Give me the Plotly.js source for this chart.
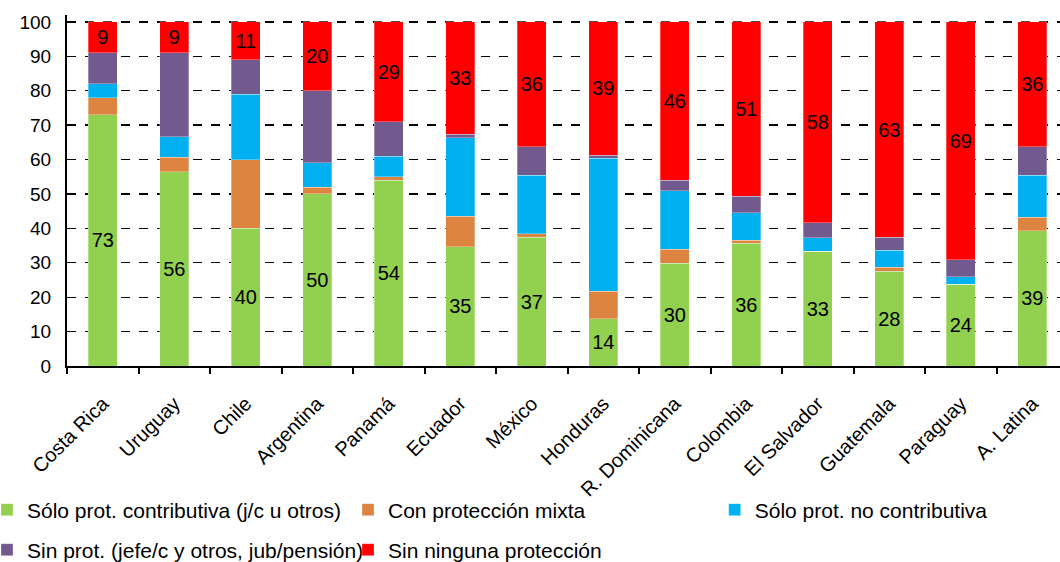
<!DOCTYPE html>
<html>
<head>
<meta charset="utf-8">
<script src="https://cdn.plot.ly/plotly-3.0.1.min.js"></script>
<style>html,body{margin:0;padding:0;background:#fff;}#chart{width:1060px;height:562px;}</style>
</head>
<body>
<div id="chart"></div>
<script>
const categories = ['Costa Rica','Uruguay','Chile','Argentina','Panamá','Ecuador','México','Honduras','R. Dominicana','Colombia','El Salvador','Guatemala','Paraguay','A. Latina'];
const contributiva = [73, 56.4, 40, 50, 54, 34.6, 37.4, 13.7, 29.8, 35.6, 33.3, 27.6, 23.8, 39.3];
const mixta        = [5, 4.2, 20, 2, 1, 8.9, 1, 8, 4.1, 1, 0, 1.1, 0, 4];
const noContrib    = [4, 6, 19, 7, 6, 22.9, 17.1, 38.7, 17.1, 7.9, 4, 4.9, 2.1, 12.2];
const sinProt      = [9, 24.4, 10, 21, 10, 1, 8.2, 0.9, 3, 4.9, 4.4, 3.8, 5, 8.2];
const ninguna      = [9, 9, 11, 20, 29, 32.6, 36.3, 38.7, 46, 50.6, 58.3, 62.6, 69.1, 36.3];
const seriesNames  = ['Sólo prot. contributiva (j/c u otros)','Con protección mixta','Sólo prot. no contributiva','Sin prot. (jefe/c y otros, jub/pensión)','Sin ninguna protección'];

const FONT = 'Liberation Sans, Arial, sans-serif';
const colors = ['#92D050','#DC8440','#00B0F0','#725A8F','#FF0000'];
const values = [contributiva, mixta, noContrib, sinProt, ninguna];
const legendIds = ['legend','legend2','legend3','legend4','legend5'];
const withText = [true,false,false,false,true];

const traces = values.map((v,i) => {
  const t = {
    type:'bar', x:categories, y:v, name:seriesNames[i],
    marker:{color:colors[i], line:{color:'rgba(255,255,255,0.5)', width:0.6}},
    legend: legendIds[i],
    hoverinfo:'name+y'
  };
  if (withText[i]) {
    t.texttemplate = '%{y:.0f}';
    t.textposition = 'inside';
    t.insidetextanchor = 'middle';
    t.textangle = 0;
    t.insidetextfont = {family:FONT, size:20, color:'#000'};
    t.constraintext = 'none';
  } else {
    t.textposition = 'none';
  }
  return t;
});

function leg(x, y) {
  return {xref:'paper', yref:'container', x:x, y:y, xanchor:'left', yanchor:'middle',
          orientation:'h', font:{family:FONT, size:21, color:'#000'}, bgcolor:'rgba(0,0,0,0)', borderwidth:0};
}
// paper x from pixel: (px - 67) / 993
function px(p){ return (p - 67) / 993; }

const layout = {
  width:1060, height:562,
  margin:{l:67, r:0, t:15, b:196, autoexpand:false},
  paper_bgcolor:'#fff', plot_bgcolor:'#fff',
  barmode:'stack', bargap:0.594,
  font:{family:FONT, size:19, color:'#000'},
  xaxis:{
    type:'category', range:[-0.5, 13.388], showline:true, linecolor:'#000', linewidth:2,
    ticks:'outside', tickson:'boundaries', ticklen:6, tickwidth:2, tickcolor:'#000',
    tickangle:-45, tickfont:{family:FONT, size:20, color:'#000'}, showgrid:false, zeroline:false,
    ticklabelstandoff:16
  },
  yaxis:{
    range:[0,102], tick0:0, dtick:10, showline:true, linecolor:'#000', linewidth:2,
    ticks:'', showgrid:true, gridcolor:'#000', gridwidth:1.3, griddash:'dash', zeroline:false,
    tickfont:{family:FONT, size:19, color:'#000'}, ticklabelstandoff:10
  },
  legend: leg(px(-13), 1-510/562),
  legend2: leg(px(348), 1-510/562),
  legend3: leg(px(714.7), 1-510/562),
  legend4: leg(px(-13), 1-550/562),
  legend5: leg(px(348), 1-550/562),
  showlegend:true
};

Plotly.newPlot('chart', traces, layout, {displayModeBar:false, staticPlot:true});
</script>
</body>
</html>
